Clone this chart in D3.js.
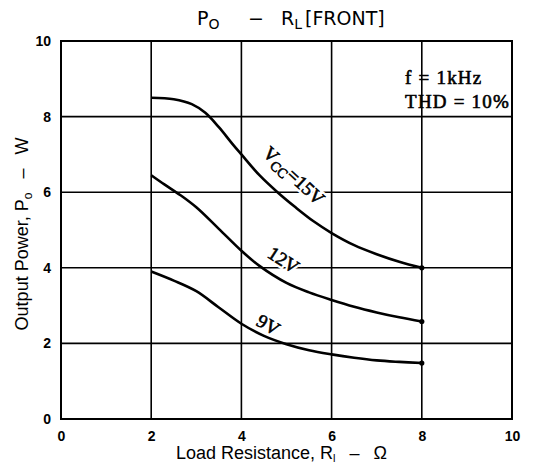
<!DOCTYPE html>
<html>
<head>
<meta charset="utf-8">
<script src="https://cdn.jsdelivr.net/npm/d3@7"></script>
<style>
  body { margin: 0; background: #fff; }
  .tick text { font-family: "Liberation Sans", Arial, sans-serif; font-weight: bold; font-size: 14px; }
  .serif { font-family: "Liberation Serif", "Times New Roman", serif; fill: #000; stroke: #000; stroke-width: 0.6px; }
  .halo { stroke: #fff; stroke-width: 5px; fill: #fff; }
</style>
</head>
<body>
<div id="chart"></div>
<script>
// data (load resistance in ohms, output power in W)
var vcc15 = [[2, 8.5], [2.5, 8.46], [2.9, 8.33], [3.2, 8.1], [3.5, 7.72], [3.8, 7.28], [4, 7.0],
             [4.4, 6.45], [4.8, 6.0], [5.2, 5.6], [5.6, 5.23], [6, 4.92], [6.5, 4.6], [7, 4.36],
             [7.5, 4.16], [8, 4.0]];
var vcc12 = [[2, 6.45], [2.3, 6.2], [2.65, 5.92], [3, 5.6], [3.5, 5.03], [4, 4.45], [4.4, 4.05],
             [5, 3.6], [5.5, 3.35], [6, 3.15], [6.5, 2.97], [7, 2.82], [7.5, 2.69], [8, 2.58]];
var vcc9 = [[2, 3.9], [2.5, 3.66], [3, 3.38], [3.5, 2.95], [4, 2.52], [4.5, 2.2], [5, 1.98],
            [5.5, 1.82], [6, 1.71], [6.5, 1.62], [7, 1.55], [7.5, 1.51], [8, 1.48]];
var xTicks = [0, 2, 4, 6, 8, 10];
var yTicks = [0, 2, 4, 6, 8, 10];

var svgWidth = 537, svgHeight = 468;
var margin = { top: 41, right: 25, bottom: 49, left: 61 };
var chartWidth = svgWidth - margin.left - margin.right;
var chartHeight = svgHeight - margin.top - margin.bottom;

var svg = d3.select("#chart").append("svg")
    .attr("width", svgWidth)
    .attr("height", svgHeight);

var chartGroup = svg.append("g")
    .attr("transform", `translate(${margin.left}, ${margin.top})`);

var x = d3.scaleLinear().domain([0, 10]).range([0, chartWidth]);
var y = d3.scaleLinear().domain([0, 10]).range([chartHeight, 0]);

// grid
chartGroup.append("g").selectAll("line.v")
    .data(xTicks.slice(1, -1)).enter().append("line")
    .attr("x1", d => x(d)).attr("x2", d => x(d))
    .attr("y1", 0).attr("y2", chartHeight)
    .attr("stroke", "#000").attr("stroke-width", 1.6);
chartGroup.append("g").selectAll("line.h")
    .data(yTicks.slice(1, -1)).enter().append("line")
    .attr("x1", 0).attr("x2", chartWidth)
    .attr("y1", d => y(d)).attr("y2", d => y(d))
    .attr("stroke", "#000").attr("stroke-width", 1.6);

// frame
chartGroup.append("rect")
    .attr("width", chartWidth).attr("height", chartHeight)
    .attr("fill", "none").attr("stroke", "#000").attr("stroke-width", 2);

// axes (labels only)
var bottomAxis = d3.axisBottom(x).tickValues(xTicks).tickSize(0).tickPadding(12);
var leftAxis = d3.axisLeft(y).tickValues(yTicks).tickSize(0).tickPadding(10);
chartGroup.append("g")
    .attr("transform", `translate(0, ${chartHeight})`)
    .call(bottomAxis)
    .call(g => g.select(".domain").remove());
chartGroup.append("g")
    .call(leftAxis)
    .call(g => g.select(".domain").remove());

// curve labels (drawn with a white halo so they break the grid like the original)
function curveLabel(cls, t, size, px, py, angle) {
  var txt = chartGroup.append("text")
      .attr("class", "serif " + cls)
      .attr("font-size", size)
      .attr("transform", `translate(${x(px)}, ${y(py)}) rotate(${angle})`);
  if (t === "VCC") {
    txt.append("tspan").text("V");
    txt.append("tspan").attr("font-size", 14).attr("dy", 4).text("CC");
    txt.append("tspan").attr("dy", -4).text("=15V");
  } else {
    txt.text(t);
  }
}
["halo", ""].forEach(function(cls) {
  curveLabel(cls, "VCC", 19, 4.45, 7.0, 43);
  curveLabel(cls, "12V", 19, 4.55, 4.3, 33);
  curveLabel(cls, "9V", 19, 4.3, 2.5, 30);
});

// curves
var line = d3.line()
    .x(d => x(d[0]))
    .y(d => y(d[1]))
    .curve(d3.curveCatmullRom.alpha(0.5));

[vcc15, vcc12, vcc9].forEach(function(s) {
  chartGroup.append("path")
      .datum(s)
      .attr("d", line)
      .attr("fill", "none")
      .attr("stroke", "#000")
      .attr("stroke-width", 2.6);
  chartGroup.append("circle")
      .attr("cx", x(s[s.length - 1][0]))
      .attr("cy", y(s[s.length - 1][1]))
      .attr("r", 2.6);
});

// conditions
chartGroup.append("text")
    .attr("class", "serif")
    .attr("font-size", 19)
    .attr("letter-spacing", 1.2)
    .attr("x", x(7.63)).attr("y", y(8.86))
    .text("f = 1kHz");
chartGroup.append("text")
    .attr("class", "serif")
    .attr("font-size", 19)
    .attr("letter-spacing", 1.2)
    .attr("x", x(7.63)).attr("y", y(8.24))
    .text("THD = 10%");

// title
var title = svg.append("text")
    .attr("x", 197).attr("y", 25)
    .style("font", "19px 'DejaVu Sans', Verdana, sans-serif");
title.append("tspan").text("P");
title.append("tspan").attr("font-size", 14).attr("dy", 4).text("O");
title.append("tspan").attr("x", 248).attr("dy", -4).text("\u2212");
title.append("tspan").attr("x", 281).text("R");
title.append("tspan").attr("font-size", 14).attr("dy", 4).text("L");
title.append("tspan").attr("dy", -4).attr("dx", 3).text("[FRONT]");

// axis labels
var xl = svg.append("text")
    .attr("x", margin.left + chartWidth / 2 - 5).attr("y", 459)
    .attr("text-anchor", "middle")
    .style("font", "18px 'Liberation Sans', Arial, sans-serif");
xl.append("tspan").text("Load Resistance, R");
xl.append("tspan").attr("font-size", 11).attr("dy", 3).text("l");
xl.append("tspan").attr("dy", -3).text("\u2002 \u2013 \u2002\u03A9");

var yl = svg.append("text")
    .attr("transform", `translate(28, ${margin.top + chartHeight / 2 + 4}) rotate(-90)`)
    .attr("text-anchor", "middle")
    .style("font", "18px 'Liberation Sans', Arial, sans-serif");
yl.append("tspan").text("Output Power, P");
yl.append("tspan").attr("font-size", 12).attr("dy", 4).text("o");
yl.append("tspan").attr("dy", -4).text("\u2002 \u2013 \u2002W");
</script>
</body>
</html>
